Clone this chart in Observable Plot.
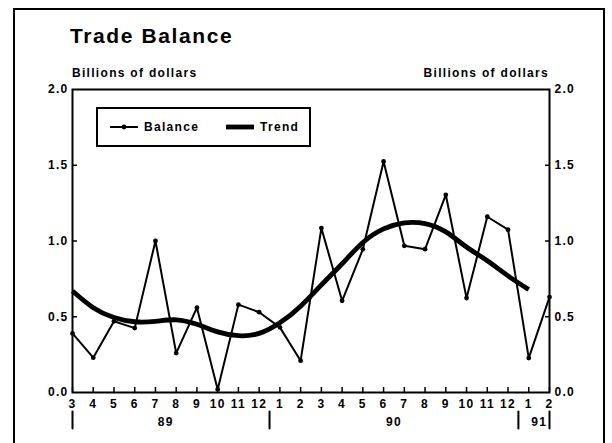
<!DOCTYPE html>
<html>
<head>
<meta charset="utf-8">
<script src="https://cdn.jsdelivr.net/npm/d3@7"></script>
<script src="https://cdn.jsdelivr.net/npm/@observablehq/plot@0.6"></script>
<style>
  html, body { margin: 0; padding: 0; background: #fff; }
  #wrap { position: relative; width: 612px; height: 443px; overflow: hidden; background: #fff;
          font-family: "Liberation Sans", Arial, sans-serif; font-weight: bold; color: #000; letter-spacing: 1.3px; }
  #outer { position: absolute; left: 13px; top: 8px; width: 588px; height: 480px; border: 2px solid #000; }
  #chart { position: absolute; left: 0; top: 0; }
  #title { position: absolute; left: 70px; top: 25px; font-size: 21px; line-height: 1; letter-spacing: 1.6px; }
  .units { position: absolute; top: 67px; font-size: 12px; line-height: 1; }
  #unitsL { left: 72px; }
  #unitsR { right: 63px; }
  #legend { position: absolute; left: 96px; top: 107px; width: 211px; height: 36px; border: 2px solid #000; background: #fff; font-size: 12px; }
  .lgitem { position: absolute; top: 0; height: 36px; display: flex; align-items: center; }
  .lgitem svg { margin-right: 6px; }
</style>
</head>
<body>
<div id="wrap">
  <div id="outer"></div>
  <div id="chart"></div>
  <div id="title">Trade Balance</div>
  <div class="units" id="unitsL">Billions of dollars</div>
  <div class="units" id="unitsR">Billions of dollars</div>
  <div id="legend"></div>
</div>
<script>
// Month labels, Mar 1989 .. Feb 1991
const months = ["3","4","5","6","7","8","9","10","11","12","1","2","3","4","5","6","7","8","9","10","11","12","1","2"];
// Monthly trade balance, billions of dollars
const balance = [0.39,0.23,0.47,0.425,1.0,0.26,0.56,0.02,0.58,0.53,0.43,0.21,1.085,0.605,0.945,1.525,0.968,0.946,1.305,0.623,1.16,1.075,0.227,0.63];
// Trend, Mar 1989 .. Jan 1991
const trend = [0.67,0.56,0.495,0.467,0.47,0.48,0.45,0.40,0.375,0.39,0.46,0.57,0.71,0.85,0.99,1.08,1.12,1.115,1.06,0.96,0.87,0.77,0.68];
// Year labels and the month range they span (first, last month index)
const yearLabels = ["89","90","91"];
const yearFirst = [0, 10, 22];
const yearLast = [9, 21, 23];
// Year separator positions (month index)
const yearSeps = [0, 9.5, 21.5, 23];
const yTicks = [0, 0.5, 1, 1.5, 2];
const yInner = [0.5, 1, 1.5];
const seriesNames = ["Balance", "Trend"];

const idx = months.map((_, i) => i);
const balData = balance.map((v, i) => ({i, v}));
const trendData = trend.map((v, i) => ({i, v}));
const yearData = yearLabels.map((t, k) => ({t, c: (yearFirst[k] + yearLast[k]) / 2}));
const fmt = d3.format(".1f");
const spike = {draw(context, l) { context.moveTo(0, 0); context.lineTo(0, -l); }};

const chart = Plot.plot({
  width: 612,
  height: 443,
  marginLeft: 72,
  marginRight: 63,
  marginTop: 89,
  marginBottom: 51,
  x: {domain: [0, 23], axis: null},
  y: {domain: [0, 2], axis: null},
  style: {fontFamily: "'Liberation Sans', Arial, sans-serif", fontWeight: "bold", fontSize: "12px", letterSpacing: "1.3px", background: "transparent", overflow: "visible"},
  marks: [
    Plot.frame({strokeWidth: 2}),
    // inward ticks
    Plot.axisX(idx, {anchor: "bottom", tickSize: 5, dy: -5, fill: "none", strokeWidth: 1.5, label: null}),
    Plot.axisY(yInner, {anchor: "left", tickSize: 5, dx: 5, fill: "none", strokeWidth: 1.5, label: null}),
    Plot.axisY(yInner, {anchor: "right", tickSize: 5, dx: -5, fill: "none", strokeWidth: 1.5, label: null}),
    // labels
    Plot.axisX(idx, {anchor: "bottom", tickSize: 0, stroke: "none", tickPadding: 7, tickFormat: (i) => months[i], label: null, fontSize: 12}),
    Plot.axisY(yTicks, {anchor: "left", tickSize: 0, stroke: "none", tickPadding: 4, tickFormat: fmt, label: null, fontSize: 12}),
    Plot.axisY(yTicks, {anchor: "right", tickSize: 0, stroke: "none", tickPadding: 5, tickFormat: fmt, label: null, fontSize: 12}),
    Plot.text(yearData, {x: "c", text: "t", frameAnchor: "bottom", dy: 30, lineAnchor: "middle", fontSize: 12}),
    Plot.vector(yearSeps, {x: (d) => d, frameAnchor: "bottom", dy: 19, length: 17, rotate: 180, anchor: "start", shape: spike, strokeWidth: 2}),
    // data
    Plot.line(trendData, {x: "i", y: "v", curve: "natural", strokeWidth: 4.8, stroke: "#000", strokeLinecap: "butt"}),
    Plot.line(balData, {x: "i", y: "v", strokeWidth: 2, stroke: "#000"}),
    Plot.dot(balData, {x: "i", y: "v", r: 2.4, fill: "#000", stroke: "none"})
  ]
});
document.getElementById("chart").appendChild(chart);

// Legend
const lg = document.getElementById("legend");
const swatches = [
  `<svg width="28" height="8"><line x1="0" y1="4" x2="28" y2="4" stroke="#000" stroke-width="2"/><circle cx="14" cy="4" r="2.4" fill="#000"/></svg>`,
  `<svg width="28" height="8"><line x1="0" y1="4" x2="28" y2="4" stroke="#000" stroke-width="4.8"/></svg>`
];
const lefts = [12, 128];
seriesNames.forEach((name, k) => {
  const item = document.createElement("div");
  item.className = "lgitem";
  item.style.left = lefts[k] + "px";
  item.innerHTML = swatches[k] + `<span>${name}</span>`;
  lg.appendChild(item);
});
</script>
</body>
</html>
